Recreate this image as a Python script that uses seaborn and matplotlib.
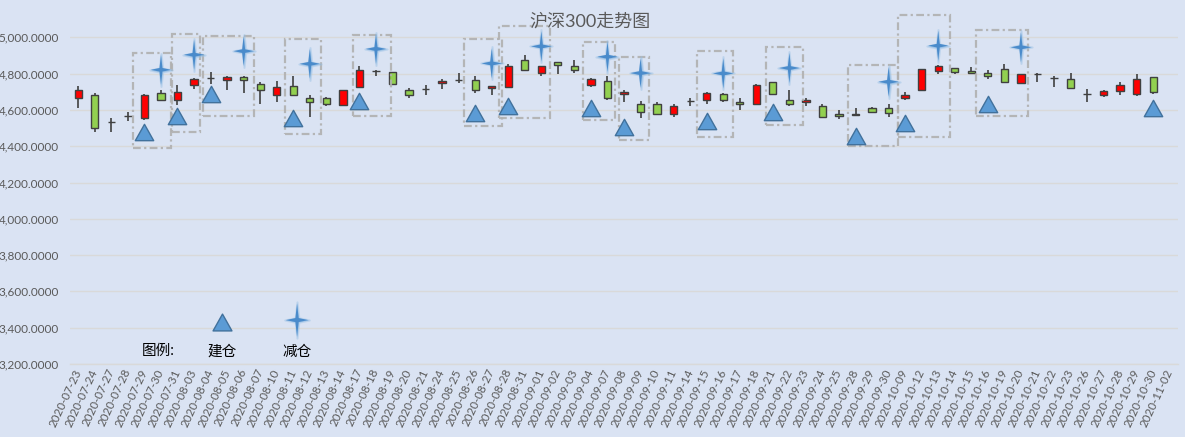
import matplotlib
matplotlib.use("Agg")
import matplotlib.pyplot as plt
from matplotlib.path import Path
from matplotlib.patches import Rectangle
from matplotlib.ticker import FuncFormatter
import numpy as np
import pandas as pd
import seaborn as sns

# 交易日
dates = [
    "2020-07-23", "2020-07-24", "2020-07-27", "2020-07-28", "2020-07-29", "2020-07-30", "2020-07-31",
    "2020-08-03", "2020-08-04", "2020-08-05", "2020-08-06", "2020-08-07", "2020-08-10", "2020-08-11",
    "2020-08-12", "2020-08-13", "2020-08-14", "2020-08-17", "2020-08-18", "2020-08-19", "2020-08-20",
    "2020-08-21", "2020-08-24", "2020-08-25", "2020-08-26", "2020-08-27", "2020-08-28", "2020-08-31",
    "2020-09-01", "2020-09-02", "2020-09-03", "2020-09-04", "2020-09-07", "2020-09-08", "2020-09-09",
    "2020-09-10", "2020-09-11", "2020-09-14", "2020-09-15", "2020-09-16", "2020-09-17", "2020-09-18",
    "2020-09-21", "2020-09-22", "2020-09-23", "2020-09-24", "2020-09-25", "2020-09-28", "2020-09-29",
    "2020-09-30", "2020-10-09", "2020-10-12", "2020-10-13", "2020-10-14", "2020-10-15", "2020-10-16",
    "2020-10-19", "2020-10-20", "2020-10-21", "2020-10-22", "2020-10-23", "2020-10-26", "2020-10-27",
    "2020-10-28", "2020-10-29", "2020-10-30", "2020-11-02",
]

# 开高低收 (11-02 无数据)
opens = [4668, 4680, 4533, 4566, 4556, 4691, 4652, 4735, 4776, 4762, 4779, 4740, 4680, 4729,
         4668, 4666, 4628, 4727, 4816, 4807, 4707, 4715, 4746, 4765, 4762, 4718, 4727, 4873,
         4801, 4862, 4840, 4735, 4759, 4685, 4635, 4630, 4575, 4649, 4652, 4685, 4643, 4634,
         4751, 4654, 4641, 4624, 4580, 4577, 4608, 4610, 4663, 4707, 4812, 4829, 4814, 4803,
         4823, 4750, 4800, 4776, 4773, 4688, 4680, 4702, 4685, 4779, np.nan]
highs = [4729, 4692, 4556, 4590, 4685, 4709, 4738, 4776, 4807, 4785, 4788, 4751, 4757, 4788,
         4680, 4672, 4710, 4840, 4821, 4808, 4722, 4738, 4770, 4801, 4785, 4731, 4853, 4902,
         4841, 4863, 4877, 4777, 4788, 4709, 4648, 4645, 4632, 4667, 4696, 4692, 4663, 4740,
         4752, 4709, 4667, 4630, 4597, 4613, 4618, 4635, 4696, 4824, 4847, 4830, 4834, 4821,
         4851, 4797, 4801, 4788, 4801, 4713, 4707, 4751, 4799, 4780, np.nan]
lows = [4608, 4479, 4479, 4537, 4545, 4650, 4626, 4716, 4744, 4711, 4692, 4635, 4646, 4674,
        4563, 4624, 4619, 4722, 4788, 4738, 4663, 4683, 4716, 4746, 4692, 4680, 4718, 4816,
        4788, 4796, 4801, 4727, 4656, 4641, 4558, 4573, 4562, 4624, 4632, 4641, 4602, 4628,
        4688, 4624, 4624, 4563, 4552, 4571, 4585, 4562, 4655, 4702, 4796, 4796, 4796, 4768,
        4746, 4740, 4755, 4725, 4718, 4641, 4673, 4683, 4678, 4685, np.nan]
closes = [4711, 4503, 4535, 4568, 4680, 4657, 4696, 4773, 4778, 4779, 4762, 4707, 4724, 4680,
          4646, 4635, 4707, 4818, 4813, 4740, 4680, 4717, 4757, 4767, 4707, 4729, 4843, 4818,
          4840, 4845, 4818, 4768, 4663, 4698, 4586, 4578, 4624, 4651, 4691, 4657, 4630, 4735,
          4689, 4635, 4654, 4563, 4567, 4574, 4591, 4585, 4680, 4823, 4840, 4807, 4801, 4788,
          4755, 4796, 4798, 4774, 4718, 4686, 4702, 4735, 4773, 4696, np.nan]

# 建仓 / 减仓 信号
buy_dates = ["2020-07-29", "2020-07-31", "2020-08-04", "2020-08-11", "2020-08-17", "2020-08-26",
             "2020-08-28", "2020-09-04", "2020-09-08", "2020-09-15", "2020-09-21", "2020-09-28",
             "2020-10-09", "2020-10-16", "2020-10-30"]
buy_prices = [4479, 4569, 4690, 4558, 4647, 4585, 4620, 4611, 4506, 4538, 4589, 4457, 4527, 4630, 4611]
sell_dates = ["2020-07-30", "2020-08-03", "2020-08-06", "2020-08-12", "2020-08-18", "2020-08-27",
              "2020-09-01", "2020-09-07", "2020-09-09", "2020-09-16", "2020-09-22", "2020-09-30",
              "2020-10-13", "2020-10-20"]
sell_prices = [4821, 4904, 4924, 4854, 4936, 4856, 4950, 4893, 4803, 4801, 4831, 4755, 4954, 4945]

# 虚线框 (类别位置, 价格)
box_x0 = [3.29, 5.65, 7.56, 12.53, 16.59, 23.34, 25.47, 30.53, 32.67, 37.43, 41.56, 46.52, 49.58, 54.30]
box_x1 = [5.61, 7.38, 10.64, 14.68, 18.91, 25.60, 28.54, 32.47, 34.52, 39.60, 43.80, 49.58, 52.70, 57.42]
box_lo = [4388, 4477, 4567, 4466, 4567, 4510, 4558, 4543, 4434, 4453, 4515, 4401, 4453, 4567]
box_hi = [4912, 5018, 5009, 4991, 5013, 4991, 5064, 4976, 4889, 4926, 4945, 4849, 5123, 5042]

BG = "#DAE3F3"
GRID = "#D9D9D9"
TXT = "#595959"
BLUE = "#5B9BD5"

sns.set_theme(style="white", rc={"axes.facecolor": BG, "figure.facecolor": BG})
plt.rcParams["font.family"] = ["Lato", "Noto Sans CJK SC", "DejaVu Sans"]

fig = plt.figure(figsize=(11.85, 4.37), dpi=100)
ax = fig.add_axes([70 / 1185, 73 / 437, 1108 / 1185, 363 / 437])

df = pd.DataFrame({"date": dates, "open": opens, "high": highs, "low": lows, "close": closes})
df["pos"] = np.arange(len(df))
up = df[df["close"] >= df["open"]]
down = df[df["close"] < df["open"]]

ax.vlines(df["pos"], df["low"], df["high"], color="#404040", lw=1.2, zorder=2)
ax.bar(up["pos"], (up["close"] - up["open"]).clip(lower=1.5), bottom=up["open"], width=0.44,
       color="#FF0000", edgecolor="#404040", lw=1, zorder=3)
ax.bar(down["pos"], (down["open"] - down["close"]).clip(lower=1.5), bottom=down["close"], width=0.44,
       color="#92D050", edgecolor="#404040", lw=1, zorder=3)

pos_of = {d: i for i, d in enumerate(dates)}
tri = Path([(0, 0.89), (-1, -0.89), (1, -0.89), (0, 0.89)], closed=True)
star = Path([(0, 1), (0.1, 0.12), (0.68, 0), (0.1, -0.12), (0, -1), (-0.1, -0.12),
             (-0.68, 0), (-0.1, 0.12), (0, 1)], closed=True)

buy_df = pd.DataFrame({"pos": [pos_of[d] for d in buy_dates], "price": buy_prices})
sell_df = pd.DataFrame({"pos": [pos_of[d] for d in sell_dates], "price": sell_prices})

sns.scatterplot(data=buy_df, x="pos", y="price", marker=tri, s=175, color=BLUE,
                edgecolor="#41719C", linewidth=1, ax=ax, zorder=5)
sns.scatterplot(data=sell_df, x="pos", y="price", marker=star, s=560, color=BLUE,
                edgecolor="#9DC3E6", linewidth=1.5, alpha=0.45, ax=ax, zorder=5)
sns.scatterplot(data=sell_df, x="pos", y="price", marker=star, s=460, color="#4A8BCB",
                edgecolor="none", linewidth=0, ax=ax, zorder=6)

for x0, x1, lo, hi in zip(box_x0, box_x1, box_lo, box_hi):
    ax.add_patch(Rectangle((x0, lo), x1 - x0, hi - lo, fill=False, edgecolor="#B0B0B0",
                           lw=1.6, ls=(0, (3.5, 1.5, 1, 1.5)), alpha=0.9, zorder=4))

# 图例
ax.text(0.0794, 0.036, "图例:", transform=ax.transAxes, ha="center", va="center",
        fontsize=10.5, color="black")
ax.scatter([0.1372], [0.116], transform=ax.transAxes, marker=tri, s=185, color=BLUE,
           edgecolor="#41719C", linewidth=1, zorder=5, clip_on=False)
ax.text(0.1372, 0.033, "建仓", transform=ax.transAxes, ha="center", va="center",
        fontsize=10.5, color="black")
ax.scatter([0.2049], [0.121], transform=ax.transAxes, marker=star, s=680, color=BLUE,
           edgecolor="#9DC3E6", linewidth=1.5, alpha=0.45, zorder=5, clip_on=False)
ax.scatter([0.2049], [0.121], transform=ax.transAxes, marker=star, s=570, color="#4A8BCB",
           edgecolor="none", zorder=6, clip_on=False)
ax.text(0.2049, 0.033, "减仓", transform=ax.transAxes, ha="center", va="center",
        fontsize=10.5, color="black")

ax.set_xlim(-0.5, len(dates) - 0.5)
ax.set_ylim(3200, 5200)
ax.set_yticks(np.arange(3200, 5001, 200))
ax.yaxis.set_major_formatter(FuncFormatter(lambda v, p: f"{v:,.4f}"))
ax.set_xticks(df["pos"])
ax.set_xticklabels(dates, rotation=65, ha="right", va="center", rotation_mode="anchor")
ax.set_xticks(np.arange(-0.5, len(dates)), minor=True)
ax.tick_params(axis="x", which="major", length=0, pad=4, labelsize=8.3, labelcolor=TXT)
ax.tick_params(axis="x", which="minor", length=5, color=GRID, width=1)
ax.tick_params(axis="y", length=0, pad=8, labelsize=8.5, labelcolor=TXT)
for lab in ax.get_yticklabels():
    lab.set_fontfamily(["Liberation Sans Narrow", "Lato"])
ax.set_xlabel("")
ax.set_ylabel("")
ax.grid(axis="y", color=GRID, lw=1)
ax.set_axisbelow(True)
for s in ["top", "right", "left"]:
    ax.spines[s].set_visible(False)
ax.spines["bottom"].set_color(GRID)
ax.spines["bottom"].set_linewidth(1)

fig.text(0.498, 1 - 21 / 437, "沪深300走势图", ha="center", va="center", fontsize=13, color=TXT)

fig.savefig("out.png", dpi=100, facecolor=BG)
